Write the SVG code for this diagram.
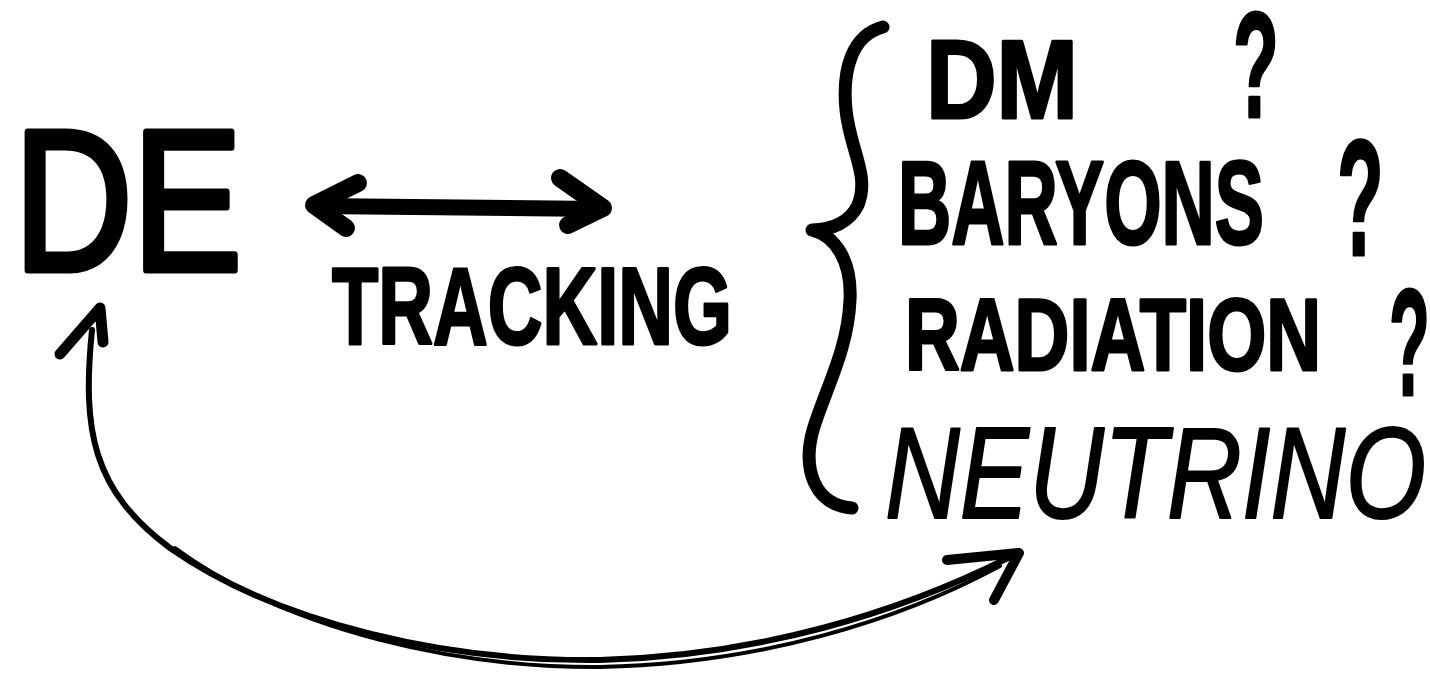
<svg xmlns="http://www.w3.org/2000/svg" width="1430" height="675" viewBox="0 0 1430 675">
<style>
.t{font-family:"Liberation Sans",Arial,sans-serif;fill:#000;stroke:#000;stroke-linejoin:round}
.b{font-weight:bold;stroke-width:3}
.r{font-weight:normal;stroke-width:7}
.n{font-weight:normal;font-style:italic;stroke-width:2}
.ln{fill:none;stroke:#000;stroke-linecap:round;stroke-linejoin:round}
</style>
<rect width="1430" height="675" fill="#fff"/>
<g id="connectors">
  <g id="tracking-arrow">
    <path class="ln" d="M 316 206 L 600 209" stroke-width="16"/>
    <path class="ln" d="M 358 183 L 314 205 L 346 228" stroke-width="18"/>
    <path class="ln" d="M 560 178 L 603 208 L 568 225" stroke-width="18"/>
  </g>
  <g id="neutrino-arrow">
    <path class="ln" d="M 92 330 C 82 430 92 490 170 548 C 280 625 450 662 600 660 C 760 656 900 612 1008 558" stroke-width="6"/>
    <path class="ln" d="M 175 548 C 290 632 460 668 600 667 C 760 664 900 620 1000 566" stroke-width="4"/>
    <path class="ln" d="M 60 354 L 100 308 L 103 342" stroke-width="11"/>
    <path class="ln" d="M 947 560 L 1019 553 L 994 600" stroke-width="10"/>
  </g>
</g>
<g id="node-de">
  <text class="t r" x="14" y="270" font-size="200" textLength="228" lengthAdjust="spacingAndGlyphs">DE</text>
</g>
<g id="node-tracking">
  <text class="t b" x="332" y="344" font-size="110" textLength="400" lengthAdjust="spacingAndGlyphs">TRACKING</text>
</g>
<g id="node-components">
  <path class="ln" d="M 883 27 C 852 35 842 70 846 110 C 850 150 870 175 858 205 C 850 222 832 230 812 230 C 836 236 852 262 850 300 C 848 350 825 390 813 430 C 802 470 815 505 852 508" stroke-width="13"/>
  <text class="t b" x="926" y="118" font-size="112" textLength="152" lengthAdjust="spacingAndGlyphs">DM</text>
  <text class="t b" transform="translate(1233 117) scale(0.5 1)" x="0" y="0" font-size="150">?</text>
  <text class="t b" x="898" y="244" font-size="118" textLength="366" lengthAdjust="spacingAndGlyphs">BARYONS</text>
  <text class="t b" transform="translate(1337 255) scale(0.46 1)" x="0" y="0" font-size="166">?</text>
  <text class="t b" x="905" y="370" font-size="102" textLength="416" lengthAdjust="spacingAndGlyphs">RADIATION</text>
  <text class="t b" transform="translate(1389 395) scale(0.44 1)" x="0" y="0" font-size="152">?</text>
  <text class="t n" x="885" y="518" font-size="130" textLength="541" lengthAdjust="spacingAndGlyphs">NEUTRINO</text>
</g>
</svg>
